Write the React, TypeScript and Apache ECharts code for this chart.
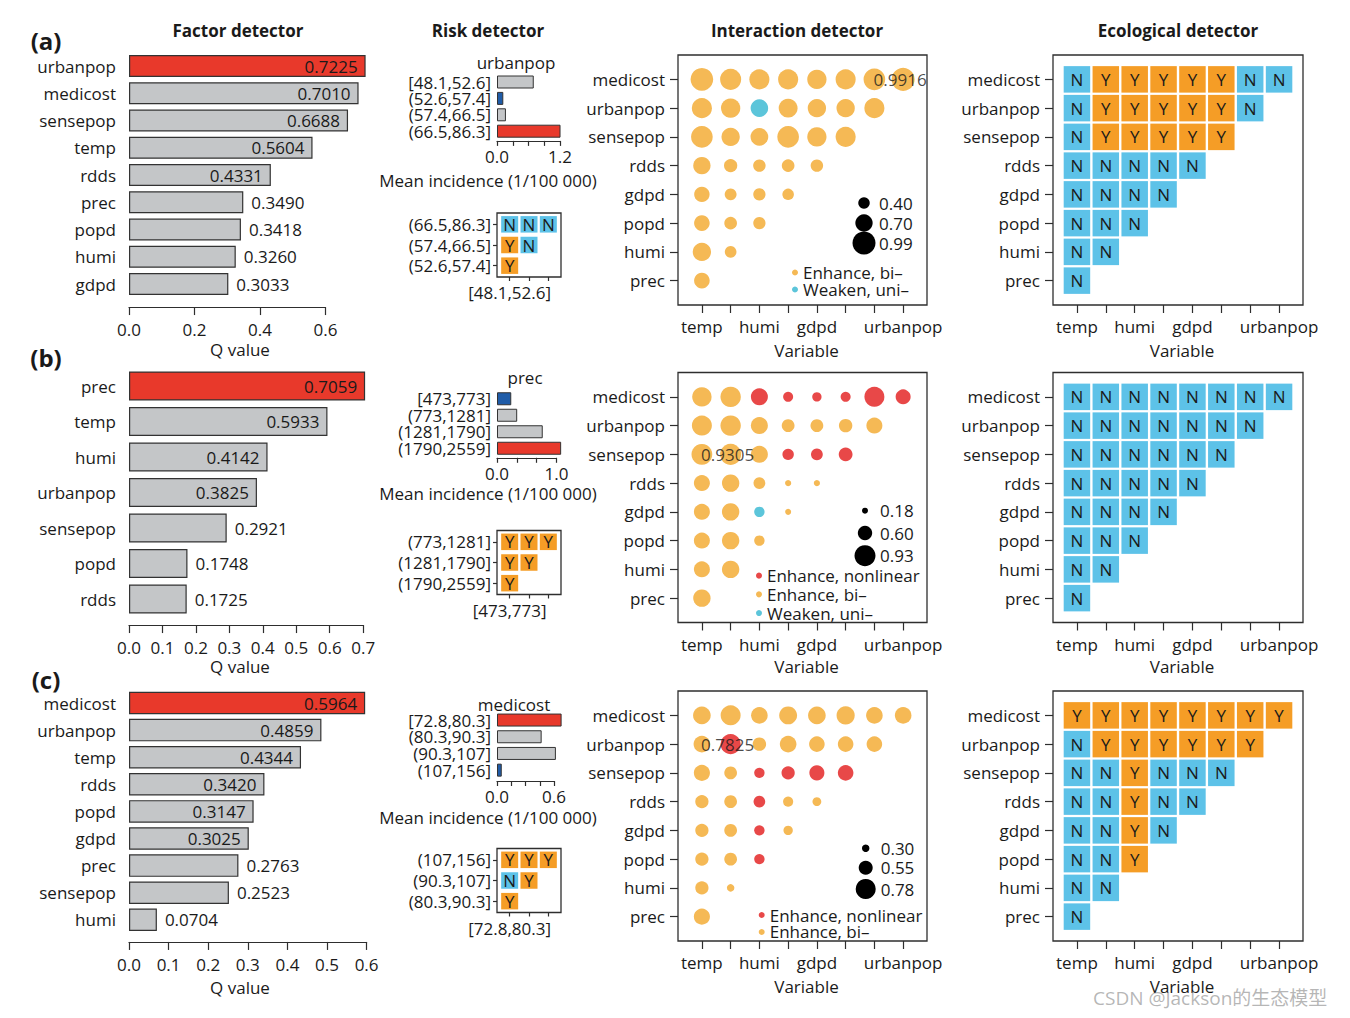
import React, { useEffect, useRef } from "react";
import * as echarts from "echarts";

const FONT = '"Open Sans", "Noto Sans", "Noto Sans CJK SC", sans-serif';
const TXT = "#1a1a1a";
const AXIS = "#2e2e2e";
const RED = "#E8392B";
const GRAY = "#C4C6C8";
const DBLUE = "#1F5CA8";
const CELL_BLUE = "#5DC2E8";
const CELL_ORANGE = "#F59D26";
const INT_COLORS: any = { N: "#E84848", B: "#F5B955", W: "#5CC5DA" };
const TYPE_NAMES: any = { N: "Enhance, nonlinear", B: "Enhance, bi–", W: "Weaken, uni–" };

// ---------------- Factor detector ----------------
const factorA_vars = ["urbanpop", "medicost", "sensepop", "temp", "rdds", "prec", "popd", "humi", "gdpd"];
const factorA_q = [0.7225, 0.701, 0.6688, 0.5604, 0.4331, 0.349, 0.3418, 0.326, 0.3033];
const factorA_inside = 5;
const factorB_vars = ["prec", "temp", "humi", "urbanpop", "sensepop", "popd", "rdds"];
const factorB_q = [0.7059, 0.5933, 0.4142, 0.3825, 0.2921, 0.1748, 0.1725];
const factorB_inside = 4;
const factorC_vars = ["medicost", "urbanpop", "temp", "rdds", "popd", "gdpd", "prec", "sensepop", "humi"];
const factorC_q = [0.5964, 0.4859, 0.4344, 0.342, 0.3147, 0.3025, 0.2763, 0.2523, 0.0704];
const factorC_inside = 6;

// ---------------- Risk detector ----------------
const riskA_var = "urbanpop";
const riskA_bins = ["[48.1,52.6]", "(52.6,57.4]", "(57.4,66.5]", "(66.5,86.3]"];
const riskA_mean = [0.7, 0.12, 0.17, 1.21];
const riskA_rows = ["(66.5,86.3]", "(57.4,66.5]", "(52.6,57.4]"];
const riskA_cols = ["[48.1,52.6]", "(52.6,57.4]", "(57.4,66.5]"];
const riskA_sig = ["NNN", "YN", "Y"];

const riskB_var = "prec";
const riskB_bins = ["[473,773]", "(773,1281]", "(1281,1790]", "(1790,2559]"];
const riskB_mean = [0.24, 0.34, 0.77, 1.08];
const riskB_rows = ["(773,1281]", "(1281,1790]", "(1790,2559]"];
const riskB_cols = ["[473,773]", "(1281,1790]", "(1790,2559]"];
const riskB_sig = ["YYY", "YY", "Y"];

const riskC_var = "medicost";
const riskC_bins = ["[72.8,80.3]", "(80.3,90.3]", "(90.3,107]", "(107,156]"];
const riskC_mean = [0.68, 0.47, 0.62, 0.05];
const riskC_rows = ["(107,156]", "(90.3,107]", "(80.3,90.3]"];
const riskC_cols = ["[72.8,80.3]", "(80.3,90.3]", "(90.3,107]"];
const riskC_sig = ["YYY", "NY", "Y"];

// ---------------- Interaction detector ----------------
const INT_COLS = ["temp", "prec", "humi", "popd", "gdpd", "rdds", "sensepop", "urbanpop"];
const INT_ROWS = ["medicost", "urbanpop", "sensepop", "rdds", "gdpd", "popd", "humi", "prec"];
const INT_XLABELS = ["temp", "humi", "gdpd", "urbanpop"];

const intA_q = [
  [0.97, 0.89, 0.84, 0.84, 0.8, 0.84, 0.92, 0.9916],
  [0.84, 0.8, 0.71, 0.78, 0.75, 0.75, 0.84],
  [0.92, 0.75, 0.72, 0.92, 0.8, 0.84],
  [0.7, 0.49, 0.45, 0.46, 0.45],
  [0.6, 0.42, 0.44, 0.4],
  [0.61, 0.46, 0.44],
  [0.75, 0.41],
  [0.61],
];
const intA_type = ["BBBBBBBB", "BBWBBBB", "BBBBBB", "BBBBB", "BBBB", "BBB", "BB", "B"];
const intA_sizeLegend = [0.4, 0.7, 0.99];

const intB_q = [
  [0.85, 0.9, 0.73, 0.38, 0.345, 0.38, 0.88, 0.63],
  [0.88, 0.9, 0.73, 0.52, 0.52, 0.55, 0.68],
  [0.92, 0.9305, 0.73, 0.45, 0.47, 0.57],
  [0.68, 0.75, 0.47, 0.19, 0.19],
  [0.68, 0.75, 0.4, 0.18],
  [0.68, 0.75, 0.4],
  [0.68, 0.75],
  [0.75],
];
const intB_type = ["BBNNNNNN", "BBBBBBB", "BBBNNN", "BBBBB", "BBWB", "BBB", "BB", "B"];
const intB_sizeLegend = [0.18, 0.6, 0.93];

const intC_q = [
  [0.69, 0.78, 0.65, 0.7, 0.69, 0.71, 0.65, 0.65],
  [0.65, 0.7825, 0.53, 0.65, 0.61, 0.61, 0.61],
  [0.63, 0.5, 0.41, 0.52, 0.59, 0.61],
  [0.52, 0.5, 0.46, 0.4, 0.35],
  [0.52, 0.5, 0.41, 0.37],
  [0.52, 0.5, 0.41],
  [0.52, 0.3],
  [0.63],
];
const intC_type = ["BBBBBBBB", "BNBBBBB", "BBNNNN", "BBNBB", "BBNB", "BBN", "BB", "B"];
const intC_sizeLegend = [0.3, 0.55, 0.78];

// ---------------- Ecological detector ----------------
const ecoA = ["NYYYYYNN", "NYYYYYN", "NYYYYY", "NNNNN", "NNNN", "NNN", "NN", "N"];
const ecoB = ["NNNNNNNN", "NNNNNNN", "NNNNNN", "NNNNN", "NNNN", "NNN", "NN", "N"];
const ecoC = ["YYYYYYYY", "NYYYYYY", "NNYNNN", "NNYNN", "NNYN", "NNY", "NN", "N"];

function buildOption() {
  const grid: any[] = [];
  const xAxis: any[] = [];
  const yAxis: any[] = [];
  const series: any[] = [];
  const legend: any[] = [];
  const graphic: any[] = [];

  const font = (size: number, bold = false) => `${bold ? "bold " : ""}${size}px ${FONT}`;
  const addText = (text: string, x: number, y: number, o: any = {}) => {
    const align = o.align || "center";
    graphic.push({
      type: "text",
      x,
      y,
      silent: true,
      style: {
        text,
        fill: o.fill || TXT,
        font: font(o.size || 17, !!o.bold),
        align,
        textAlign: align,
        verticalAlign: "middle",
        textVerticalAlign: "middle",
      },
    });
  };
  const addBox = (x: number, y: number, w: number, h: number) => {
    graphic.push({
      type: "rect",
      silent: true,
      shape: { x, y, width: w, height: h },
      style: { fill: "none", stroke: AXIS, lineWidth: 1.3 },
    });
  };
  const lbl = { fontSize: 17, color: TXT, fontFamily: FONT };
  const tickStyle = { color: AXIS, width: 1.2 };

  // ---- Factor detector panel ----
  const factorPanel = (vars: string[], q: number[], inside: number, L: any) => {
    const gi = grid.length;
    grid.push({ left: 129, top: L.top, width: L.max * L.ppu, height: L.band * vars.length });
    xAxis.push({
      gridIndex: gi, type: "value", min: 0, max: L.max, interval: L.interval, offset: L.offset,
      axisLine: { show: true, lineStyle: tickStyle },
      axisTick: { show: true, length: 8, lineStyle: tickStyle },
      axisLabel: { ...lbl, margin: 14, formatter: (v: number) => v.toFixed(1) },
      splitLine: { show: false },
    });
    yAxis.push({
      gridIndex: gi, type: "category", data: vars, inverse: true,
      axisLine: { show: false }, axisTick: { show: false },
      axisLabel: { ...lbl, interval: 0, margin: 13 },
    });
    const qmax = Math.max(...q);
    series.push({
      type: "bar", xAxisIndex: gi, yAxisIndex: gi, barWidth: L.barW, clip: false, silent: true,
      data: q.map((v, i) => ({
        value: v,
        itemStyle: { color: v === qmax ? RED : GRAY, borderColor: "#333", borderWidth: 1.2 },
        label: { show: true, position: i < inside ? "insideRight" : "right", distance: 8, formatter: v.toFixed(4), ...lbl },
      })),
    });
    addText("Q value", 240, L.xlabY);
  };

  factorPanel(factorA_vars, factorA_q, factorA_inside, { top: 52.4, band: 27.25, barW: 22, max: 0.6, interval: 0.2, ppu: 327.5, offset: 9.4, xlabY: 349 });
  factorPanel(factorB_vars, factorB_q, factorB_inside, { top: 368.25, band: 35.5, barW: 29, max: 0.7, interval: 0.1, ppu: 334.5, offset: 8.3, xlabY: 666 });
  factorPanel(factorC_vars, factorC_q, factorC_inside, { top: 689.45, band: 27.1, barW: 22.5, max: 0.6, interval: 0.1, ppu: 396, offset: 8.6, xlabY: 987 });

  // ---- Risk detector bars ----
  const riskBars = (title: string, bins: string[], mean: number[], L: any) => {
    const gi = grid.length;
    grid.push({ left: 497, top: L.top, width: L.max * L.ppu, height: L.band * bins.length });
    xAxis.push({
      gridIndex: gi, type: "value", min: 0, max: L.max, interval: L.interval, offset: L.offset,
      axisLine: { show: true, lineStyle: tickStyle },
      axisTick: { show: true, length: 5, lineStyle: tickStyle },
      axisLabel: {
        ...lbl, margin: 7, showMaxLabel: true, showMinLabel: true,
        formatter: (v: number) => (Math.abs(v) < 1e-9 ? "0.0" : Math.abs(v - L.max) < 1e-6 ? L.max.toFixed(1) : ""),
      },
      splitLine: { show: false },
    });
    yAxis.push({
      gridIndex: gi, type: "category", data: bins, inverse: true,
      axisLine: { show: false }, axisTick: { show: false },
      axisLabel: { ...lbl, interval: 0, margin: 6, lineHeight: 15 },
    });
    const mx = Math.max(...mean);
    const mn = Math.min(...mean);
    series.push({
      type: "bar", xAxisIndex: gi, yAxisIndex: gi, barWidth: 13, clip: false, silent: true,
      data: mean.map((v) => ({
        value: v,
        itemStyle: { color: v === mx ? RED : v === mn ? DBLUE : GRAY, borderColor: "#333", borderWidth: 1 },
      })),
    });
    addText(title, L.titleX, L.titleY);
    addText("Mean incidence (1/100 000)", 488, L.xlabY);
  };
  riskBars(riskA_var, riskA_bins, riskA_mean, { top: 73.8, band: 16.4, max: 1.2, interval: 0.3, ppu: 52.5, offset: 1.5, titleX: 516, titleY: 62, xlabY: 180 });
  riskBars(riskB_var, riskB_bins, riskB_mean, { top: 390.5, band: 16.5, max: 1, interval: 1 / 3, ppu: 59.4, offset: 1.3, titleX: 525, titleY: 377, xlabY: 493 });
  riskBars(riskC_var, riskC_bins, riskC_mean, { top: 711.7, band: 16.7, max: 0.6, interval: 0.15, ppu: 95, offset: 2.5, titleX: 514, titleY: 704, xlabY: 817 });

  // ---- cell-matrix helper (risk + ecological) ----
  const cellSeries = (gi: number, mat: string[], size: number[]) => {
    ["Y", "N"].forEach((letter) => {
      const data: any[] = [];
      mat.forEach((row, r) => row.split("").forEach((c, ci) => { if (c === letter) data.push([ci, r]); }));
      if (!data.length) return;
      series.push({
        type: "scatter", xAxisIndex: gi, yAxisIndex: gi, symbol: "rect", symbolSize: size, silent: true,
        itemStyle: { color: letter === "Y" ? CELL_ORANGE : CELL_BLUE, opacity: 1 },
        label: { show: true, position: "inside", formatter: letter, ...lbl },
        data,
      });
    });
  };

  // ---- Risk matrices ----
  const riskMatrix = (cols: string[], rows: string[], mat: string[], y: number) => {
    const gi = grid.length;
    addBox(497, y, 64, 64);
    grid.push({ left: 500, top: y + 1, width: 58, height: 62 });
    xAxis.push({
      gridIndex: gi, type: "category", data: cols, offset: 1,
      axisLine: { show: false },
      axisTick: { show: true, alignWithLabel: true, interval: 0, length: 4, lineStyle: tickStyle },
      axisLabel: { ...lbl, margin: 7, interval: (i: number) => i === 0 },
      splitLine: { show: false },
    });
    yAxis.push({
      gridIndex: gi, type: "category", data: rows, inverse: true, offset: 3,
      axisLine: { show: false },
      axisTick: { show: true, alignWithLabel: true, interval: 0, length: 4, lineStyle: tickStyle },
      axisLabel: { ...lbl, margin: 6, interval: 0 },
      splitLine: { show: false },
    });
    cellSeries(gi, mat, [17, 16.5]);
  };
  riskMatrix(riskA_cols, riskA_rows, riskA_sig, 213);
  riskMatrix(riskB_cols, riskB_rows, riskB_sig, 530.5);
  riskMatrix(riskC_cols, riskC_rows, riskC_sig, 848.5);

  // ---- common 8x8 axes ----
  const matrixAxes = (bx: number, T: number, w: number, labY: number) => {
    const gi = grid.length;
    addBox(bx, T, w, 250);
    grid.push({ left: bx + 9.5, top: T + 10, width: w - 19, height: 230 });
    xAxis.push({
      gridIndex: gi, type: "category", data: INT_COLS, offset: 10,
      axisLine: { show: false },
      axisTick: { show: true, alignWithLabel: true, interval: 0, length: 8, lineStyle: tickStyle },
      axisLabel: { ...lbl, margin: 13, interval: (i: number, name: string) => INT_XLABELS.indexOf(name) >= 0 },
      splitLine: { show: false },
    });
    yAxis.push({
      gridIndex: gi, type: "category", data: INT_ROWS, inverse: true, offset: 9.5,
      axisLine: { show: false },
      axisTick: { show: true, alignWithLabel: true, interval: 0, length: 8, lineStyle: tickStyle },
      axisLabel: { ...lbl, margin: 13, interval: 0 },
      splitLine: { show: false },
    });
    addText("Variable", bx + w / 2 + 4, labY);
    return gi;
  };

  // ---- Interaction panels ----
  const interaction = (T: number, labY: number, vals: number[][], types: string[], sizeLegend: number[], L: any) => {
    const gi = matrixAxes(678, T, 249, labY);
    const vmin = sizeLegend[0];
    const vmax = sizeLegend[sizeLegend.length - 1];
    const dsz = (v: number) => L.dmin + ((v - vmin) / (vmax - vmin)) * (L.dmax - L.dmin);
    let best: any = null;
    ["B", "N", "W"].forEach((t) => {
      const data: any[] = [];
      vals.forEach((row, r) => row.forEach((v, c) => {
        if (types[r][c] === t) data.push([c, r, v]);
        if (!best || v > best[2]) best = [c, r, v];
      }));
      if (!data.length) return;
      series.push({
        type: "scatter", name: TYPE_NAMES[t], xAxisIndex: gi, yAxisIndex: gi, silent: true,
        symbol: "circle", symbolSize: (val: number[]) => dsz(val[2]),
        itemStyle: { color: INT_COLORS[t], opacity: 1 },
        data,
      });
    });
    series.push({
      type: "scatter", name: "max", xAxisIndex: gi, yAxisIndex: gi, silent: true, z: 5,
      symbolSize: 0, data: [best],
      label: { show: true, position: "inside", formatter: best[2].toFixed(4), ...lbl, offset: [-3, 0] },
    });
    // size legend
    sizeLegend.forEach((v, i) => {
      graphic.push({ type: "circle", silent: true, shape: { cx: L.sx, cy: L.sy[i], r: dsz(v) / 2 }, style: { fill: "#000" } });
      addText(v.toFixed(2), L.sx + 15, L.sy[i], { align: "left" });
    });
    // colour legend
    legend.push({
      orient: "vertical", left: L.lx, top: L.ly, padding: 0, itemGap: 0, itemWidth: 6, itemHeight: 6,
      icon: "circle", selectedMode: false,
      textStyle: { ...lbl, lineHeight: L.lh, padding: [0, 0, 0, 0] },
      data: L.names.map((t: string) => TYPE_NAMES[t]),
    });
  };
  interaction(55, 350, intA_q, intA_type, intA_sizeLegend, { dmin: 11.5, dmax: 23, sx: 864, sy: [203, 223, 243], lx: 792, ly: 264, lh: 16, names: ["B", "W"] });
  interaction(372.5, 666, intB_q, intB_type, intB_sizeLegend, { dmin: 6, dmax: 21, sx: 865, sy: [510.7, 533, 555.7], lx: 756, ly: 566.3, lh: 18.7, names: ["N", "B", "W"] });
  interaction(691, 986, intC_q, intC_type, intC_sizeLegend, { dmin: 7.5, dmax: 20, sx: 865.7, sy: [848.3, 867.7, 889], lx: 758.7, ly: 906.5, lh: 15, names: ["N", "B"] });

  // ---- Ecological panels ----
  [[55, 350, ecoA], [372.5, 666, ecoB], [691, 986, ecoC]].forEach(([T, labY, mat]: any) => {
    const gi = matrixAxes(1053, T, 250, labY);
    cellSeries(gi, mat, [26.5, 26.5]);
  });

  // ---- titles & panel labels ----
  addText("Factor detector", 238, 30, { bold: true });
  addText("Risk detector", 488, 30, { bold: true });
  addText("Interaction detector", 797, 30, { bold: true });
  addText("Ecological detector", 1178, 30, { bold: true });
  addText("(a)", 46, 40, { bold: true, size: 24 });
  addText("(b)", 46, 357, { bold: true, size: 24 });
  addText("(c)", 46, 679, { bold: true, size: 24 });
  addText("CSDN @Jackson的生态模型", 1093, 998, { align: "left", size: 19, fill: "rgba(110,110,110,0.5)" });

  return {
    animation: false,
    backgroundColor: "#ffffff",
    textStyle: { fontFamily: FONT },
    grid, xAxis, yAxis, series, legend,
    graphic: { elements: graphic },
  };
}

export default function App() {
  const ref = useRef<HTMLDivElement>(null);
  useEffect(() => {
    const chart = echarts.init(ref.current as HTMLDivElement, null, { renderer: "svg" });
    chart.setOption(buildOption() as any);
    return () => chart.dispose();
  }, []);
  return (
    <div
      ref={ref}
      style={{ position: "absolute", left: 0, top: 0, width: 1350, height: 1018, background: "#fff" }}
    />
  );
}
